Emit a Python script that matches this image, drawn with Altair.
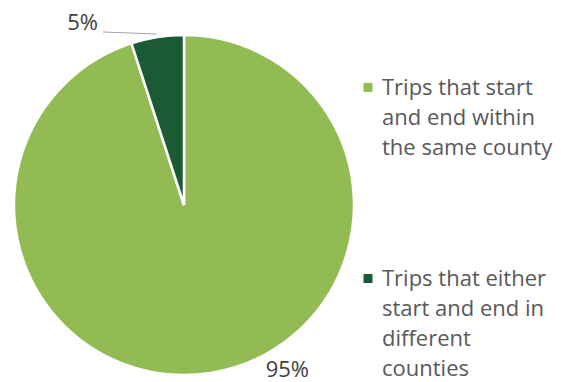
import altair as alt
import pandas as pd

categories = [
    "Trips that start|and end within|the same county",
    "Trips that either|start and end in|different|counties",
]
shares = [95, 5]
colors = ["#92BC53", "#1B5A35"]

df = pd.DataFrame({"category": categories, "share": shares, "order": [0, 1]})

CX, CY, R = 184, 205, 170

base = alt.Chart(df)

# square symbol raised so it sits level with the first line of a multi-line label
raised_square = "M-1,-2.67H1V-0.67H-1Z"

pie = base.mark_arc(outerRadius=R, x=CX, y=CY, stroke="white", strokeWidth=2.5).encode(
    theta=alt.Theta("share:Q", stack=True),
    order=alt.Order("order:Q"),
    color=alt.Color(
        "category:N",
        scale=alt.Scale(domain=categories, range=colors),
        sort=categories,
        legend=alt.Legend(
            title=None,
            orient="none",
            legendX=357,
            legendY=84,
            padding=0,
            symbolType=raised_square,
            symbolSize=81,
            symbolStrokeWidth=0,
            labelFont="Open Sans",
            labelFontSize=22,
            labelColor="#595959",
            labelBaseline="alphabetic",
            labelLimit=0,
            labelOffset=3,
            rowPadding=109,
            labelExpr="split(datum.label, '|')",
        ),
    ),
)

lbl = base.transform_calculate(lab="datum.share + '%'")

label95 = lbl.transform_filter("datum.share == 95").mark_text(
    x=CX, y=CY, theta=2.583, radius=195, font="Open Sans", fontSize=22,
    color="#404040", align="center", baseline="middle"
).encode(text="lab:N")

label5 = lbl.transform_filter("datum.share == 5").mark_text(
    x=CX, y=CY, theta=5.774, radius=208, font="Open Sans", fontSize=22,
    color="#404040", align="center", baseline="middle"
).encode(text="lab:N")

leader = alt.Chart(pd.DataFrame({"a": [0]})).mark_rule(color="#A6A6A6", strokeWidth=1.2).encode(
    x=alt.value(103), y=alt.value(32), x2=alt.value(157), y2=alt.value(34)
)

chart = alt.layer(pie, leader, label95, label5).properties(
    width=561, height=382, autosize=alt.AutoSizeParams(type="none"), padding=0
).configure(style={"guide-label": {"lineHeight": 30}}).configure_view(strokeWidth=0)

chart.save("out.html", embed_options={"renderer": "svg", "actions": False})
